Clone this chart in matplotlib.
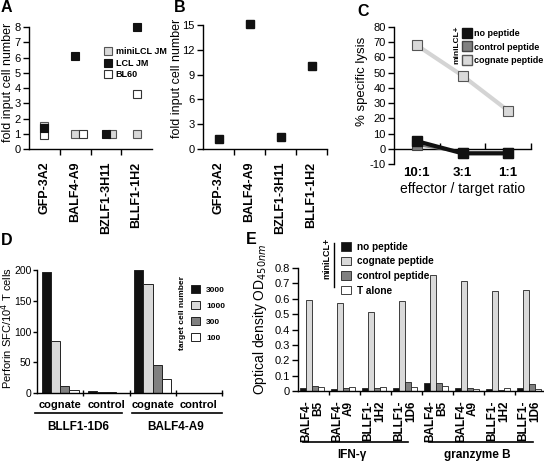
import matplotlib
matplotlib.use("Agg")
import matplotlib.pyplot as plt
import numpy as np
from matplotlib.lines import Line2D

plt.rcParams['font.family'] = ['Liberation Sans', 'DejaVu Sans']
plt.rcParams['axes.unicode_minus'] = False
plt.rcParams['axes.linewidth'] = 1.0

# ---- data ----
clones_ab = ["GFP-3A2", "BALF4-A9", "BZLF1-3H11", "BLLF1-1H2"]
minilcl_a = [1.5, 1.0, 1.0, 1.0]
lcl_a = [1.38, 6.1, 1.0, 8.0]
bl60_a = [0.9, 1.0, np.nan, 3.6]
fold_b = [1.2, 15.1, 1.4, 10.1]

ratios_c = ["10:1", "3:1", "1:1"]
nopep_c = [5, -3, -3]
ctrlpep_c = [2.5, -2.5, -2.5]
cogpep_c = [68, 48, 25]

sections_d = ["cognate", "control", "cognate", "control"]
groups_d = ["BLLF1-1D6", "BALF4-A9"]
targets_d = ["3000", "1000", "300", "100"]
sfc_3000 = [196, 2.5, 200, 0]
sfc_1000 = [84, 2, 178, 0]
sfc_300 = [12, 1.5, 46, 0]
sfc_100 = [5, 0.5, 23, 0]

clones_e = ["BALF4-\nB5", "BALF4-\nA9", "BLLF1-\n1H2", "BLLF1-\n1D6"] * 2
groups_e = ["IFN-\u03b3", "granzyme B"]
nopep_e = [0.02, 0.015, 0.02, 0.02, 0.05, 0.02, 0.01, 0.022]
cogpep_e = [0.59, 0.575, 0.515, 0.584, 0.752, 0.713, 0.649, 0.66]
ctrlpep_e = [0.035, 0.018, 0.02, 0.06, 0.055, 0.02, 0.008, 0.045]
alone_e = [0.028, 0.025, 0.025, 0.025, 0.035, 0.015, 0.02, 0.015]

# small horizontal shifts used in panel A so overlapping squares stay visible
shift_mini = [0, 0, 0.2, 0]
shift_lcl = [0, 0, 0, 0]
shift_bl60 = [0, 0.26, 0, 0]

W, H = 544, 461
fig = plt.figure(figsize=(W / 100, H / 100), dpi=100)


def box(l, t, r, b):
    return [l / W, 1 - b / H, (r - l) / W, (b - t) / H]


def clean(ax):
    ax.spines['top'].set_visible(False)
    ax.spines['right'].set_visible(False)
    ax.tick_params(axis='y', labelsize=8, length=4, width=1, pad=2)


LIGHT = '#d9d9d9'
MID = '#808080'

# ---- A ----
axA = fig.add_axes(box(29, 27, 152, 149))
clean(axA)
xa = np.arange(len(clones_ab))
axA.plot(xa + shift_mini, minilcl_a, 's', ms=6, mfc=LIGHT, mec='#555555', mew=0.8,
         label='miniLCL JM', clip_on=False, zorder=3)
axA.plot(xa + shift_bl60, bl60_a, 's', ms=6, mfc='white', mec='#333333', mew=0.8,
         label='BL60', clip_on=False, zorder=4)
axA.plot(xa + shift_lcl, lcl_a, 's', ms=6, mfc='#111111', mec='#111111', mew=0.8,
         label='LCL JM', clip_on=False, zorder=5)
axA.set_xlim(-0.5, 3.5)
axA.set_ylim(0, 8)
axA.set_yticks(range(0, 9))
axA.set_xticks(xa)
axA.set_xticklabels(clones_ab, rotation=90, fontweight='bold', fontsize=9)
axA.tick_params(axis='x', length=0, pad=9)
axA.set_xticks([0.5, 1.5, 2.5], minor=True)
axA.tick_params(axis='x', which='minor', length=4, width=1)
axA.set_ylabel('fold input cell number', fontsize=9)
axA.yaxis.set_label_coords(-0.12, 0.55)
h, l = axA.get_legend_handles_labels()
order = [0, 2, 1]
axA.legend([h[i] for i in order], [l[i] for i in order], loc='upper left',
           bbox_to_anchor=(104 / W, 1 - 47 / H), bbox_transform=fig.transFigure,
           frameon=False, prop={'weight': 'bold', 'size': 6.5}, handlelength=0.8,
           handletextpad=0.5, labelspacing=0.3, borderpad=0, borderaxespad=0,
           markerscale=0.85)

# ---- B ----
axB = fig.add_axes(box(203, 25, 327, 149))
clean(axB)
axB.plot(xa, fold_b, 's', ms=6, mfc='#111111', mec='#111111', clip_on=False)
axB.set_xlim(-0.5, 3.5)
axB.set_ylim(0, 15)
axB.set_yticks(range(0, 16, 3))
axB.set_xticks(xa)
axB.set_xticklabels(clones_ab, rotation=90, fontweight='bold', fontsize=9)
axB.tick_params(axis='x', length=0, pad=9)
axB.set_xticks([0.5, 1.5, 2.5, 3.5], minor=True)
axB.tick_params(axis='x', which='minor', length=4, width=1)
axB.set_ylabel('fold input cell number', fontsize=9)
axB.yaxis.set_label_coords(-0.16, 0.57)

# ---- C ----
axC = fig.add_axes(box(394, 27, 531, 164))
clean(axC)
xc = np.arange(len(ratios_c))
axC.plot(xc, cogpep_c, '-s', color='#d4d4d4', lw=3, ms=7, mfc=LIGHT, mec='#555555',
         mew=0.8, label='cognate peptide', clip_on=False, zorder=3)
axC.plot(xc, ctrlpep_c, '-s', color=MID, lw=1.5, ms=7, mfc=MID, mec='#444444',
         mew=0.8, label='control peptide', clip_on=False, zorder=3)
axC.plot(xc, nopep_c, '-s', color='#111111', lw=3, ms=7, mfc='#111111', mec='#111111',
         label='no peptide', clip_on=False, zorder=4)
axC.set_xlim(-0.5, 2.5)
axC.set_ylim(-10, 80)
axC.set_yticks(range(-10, 81, 10))
axC.spines['bottom'].set_position(('data', 0))
axC.set_xticks([])
axC.set_xticks([0.5, 1.5, 2.5], minor=True)
axC.tick_params(axis='x', which='minor', direction='in', length=4, width=1)
for i, r in enumerate(ratios_c):
    axC.text(i, -0.025, r, transform=axC.get_xaxis_transform(), ha='center', va='top',
             fontsize=9.5, fontweight='bold')
axC.text(0.5, -0.135, 'effector / target ratio', transform=axC.transAxes, ha='center',
         va='top', fontsize=10)
axC.set_ylabel('% specific lysis', fontsize=9.5)
axC.yaxis.set_label_coords(-0.19, 0.6)
h, l = axC.get_legend_handles_labels()
legC = [Line2D([], [], ls='none', marker='s', ms=6.5, mfc=hh.get_mfc(), mec=hh.get_mec())
        for hh in h]
axC.legend([legC[2], legC[1], legC[0]], [l[2], l[1], l[0]], loc='upper left',
           bbox_to_anchor=(463 / W, 1 - 29 / H), bbox_transform=fig.transFigure,
           frameon=False, prop={'weight': 'bold', 'size': 6.5}, handlelength=0.8,
           handletextpad=0.4, labelspacing=0.5, borderpad=0, borderaxespad=0)
fig.text(457 / W, 1 - 45 / H, 'miniLCL+', rotation=90, ha='center', va='center',
         fontsize=6, fontweight='bold')

# ---- D ----
axD = fig.add_axes(box(37, 270, 222, 393))
clean(axD)
axD.tick_params(axis='y', pad=1, labelsize=7.5, length=3)
xd = np.arange(len(sections_d))
bw = 0.2
for k, (vals, col) in enumerate(zip([sfc_3000, sfc_1000, sfc_300, sfc_100],
                                    ['#111111', LIGHT, MID, 'white'])):
    axD.bar(xd + 0.2 + k * bw, vals, bw, color=col, edgecolor='#222222', lw=0.7,
            label=targets_d[k])
axD.set_xlim(0, 4)
axD.set_ylim(0, 200)
axD.set_yticks(range(0, 201, 50))
axD.set_xticks(xd + 0.5)
axD.set_xticklabels(sections_d, fontweight='bold', fontsize=8)
axD.tick_params(axis='x', length=0, pad=5)
axD.set_xticks([1, 2, 3, 4], minor=True)
axD.tick_params(axis='x', which='minor', direction='inout', length=5, width=1)
tD = axD.get_xaxis_transform()
for g, name in enumerate(groups_d):
    axD.plot([2 * g - 0.05 + 0.1 * g, 2 * g + 1.83 + 0.17 * g], [-0.165, -0.165],
             color='black', lw=1.2, transform=tD, clip_on=False)
    axD.text(2 * g + 0.9 + 0.1 * g, -0.23, name, transform=tD, ha='center', va='top',
             fontsize=8.5, fontweight='bold')
axD.set_ylabel('Perforin SFC/10$^4$ T cells', fontsize=8)
axD.yaxis.set_label_coords(-0.118, 0.53)
axD.legend(loc='upper left', bbox_to_anchor=(191 / W, 1 - 285 / H),
           bbox_transform=fig.transFigure, frameon=False,
           prop={'weight': 'bold', 'size': 6}, handlelength=1.1, handleheight=1.1,
           handletextpad=0.7, labelspacing=0.85, borderpad=0, borderaxespad=0)
fig.text(182 / W, 1 - 313 / H, 'target cell number', rotation=90, ha='center',
         va='center', fontsize=6, fontweight='bold')

# ---- E ----
axE = fig.add_axes(box(298, 268, 546, 391))
clean(axE)
xe = np.arange(len(clones_e))
bw = 0.19
series_e = [(nopep_e, '#111111', 'no peptide'), (cogpep_e, LIGHT, 'cognate peptide'),
            (ctrlpep_e, MID, 'control peptide'), (alone_e, 'white', 'T alone')]
for k, (vals, col, lab) in enumerate(series_e):
    axE.bar(xe + 0.07 + bw / 2 + k * bw, vals, bw, color=col, edgecolor='#222222',
            lw=0.6, label=lab)
axE.set_xlim(0, 8)
axE.set_ylim(0, 0.8)
axE.set_yticks(np.arange(0, 0.81, 0.1))
axE.set_yticklabels(['0'] + [f'{v:.1f}' for v in np.arange(0.1, 0.81, 0.1)])
axE.set_xticks(xe + 0.45)
axE.set_xticklabels(clones_e, rotation=90, fontweight='bold', fontsize=8.5,
                    multialignment='right', linespacing=1.0)
axE.tick_params(axis='x', length=0, pad=7)
axE.set_xticks(np.arange(1, 8), minor=True)
axE.tick_params(axis='x', which='minor', length=3, width=1)
tE = axE.get_xaxis_transform()
for g, name in enumerate(groups_e):
    axE.plot([4 * g + 0.16 + 0.07 * g, 4 * g + 3.55 + 0.03 * g], [-0.415, -0.415],
             color='black', lw=1.2, transform=tE, clip_on=False)
    axE.text(4 * g + 1.75 + 0.05 * g, -0.47, name, transform=tE, ha='center', va='top',
             fontsize=8.5, fontweight='bold')
axE.set_ylabel('Optical density OD$_{450nm}$', fontsize=10)
axE.yaxis.set_label_coords(-0.115, 0.58)
axE.legend(loc='upper left', bbox_to_anchor=(341 / W, 1 - 242 / H),
           bbox_transform=fig.transFigure, frameon=False,
           prop={'weight': 'bold', 'size': 7.2}, handlelength=1.0, handleheight=0.9,
           handletextpad=0.6, labelspacing=0.45, borderpad=0, borderaxespad=0)
fig.text(327 / W, 1 - 258 / H, 'miniLCL+', rotation=90, ha='center', va='center',
         fontsize=6.5, fontweight='bold')
fig.add_artist(Line2D([334 / W, 334 / W], [1 - 243 / H, 1 - 287 / H], color='black',
                      lw=1.0))

# ---- panel letters ----
for letter, (x, y) in zip('ABCDE', [(1, 0), (174, 0), (357, 4), (1, 233), (246, 232)]):
    fig.text(x / W, 1 - y / H, letter, fontsize=11.5, fontweight='bold', va='top',
             ha='left')

fig.savefig('out.png', dpi=100)
